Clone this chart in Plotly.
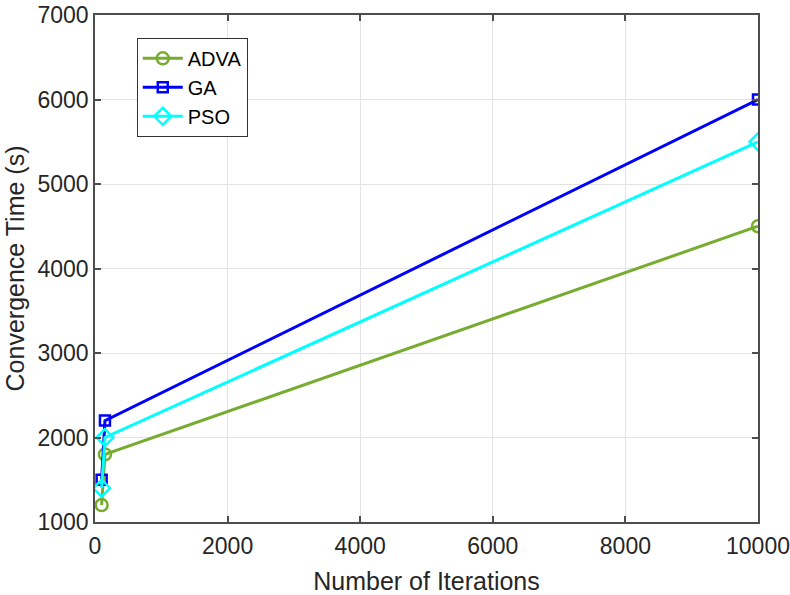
import plotly.graph_objects as go

iterations = [100, 150, 10000]
adva = [1200, 1800, 4500]
ga = [1500, 2200, 6000]
pso = [1400, 2000, 5500]

x_ticks = [0, 2000, 4000, 6000, 8000, 10000]
x_tick_labels = ["0", "2000", "4000", "6000", "8000", "10000"]
y_ticks = [1000, 2000, 3000, 4000, 5000, 6000, 7000]
y_tick_labels = ["1000", "2000", "3000", "4000", "5000", "6000", "7000"]

font_family = "Liberation Sans, Arial, sans-serif"
text_color = "#262626"

fig = go.Figure()
series = [
    ("ADVA", adva, "#77AC30", "circle-open", 12),
    ("GA", ga, "#0000FF", "square-open", 10),
    ("PSO", pso, "#00FFFF", "diamond-open", 13),
]
for name, vals, color, sym, size in series:
    fig.add_trace(go.Scatter(
        x=iterations, y=vals, name=name, mode="lines+markers",
        line=dict(color=color, width=3),
        marker=dict(symbol=sym, size=size, color=color, line=dict(color=color, width=2.5)),
    ))

axis_common = dict(
    showgrid=True, gridcolor="#e3e3e3", gridwidth=1,
    showline=True, linecolor="#4d4d4d", linewidth=1.5, mirror="ticks",
    ticks="inside", ticklen=6, tickcolor="#4d4d4d", tickwidth=1.5,
    zeroline=False, ticklabeloverflow="allow", automargin=False,
    tickfont=dict(family=font_family, size=23, color=text_color),
    title_font=dict(family=font_family, size=25, color=text_color),
)

fig.update_layout(
    width=790, height=595,
    margin=dict(l=95, r=32, t=15, b=73),
    paper_bgcolor="white", plot_bgcolor="white",
    font=dict(family=font_family, color=text_color),
    xaxis=dict(range=[0, 10000], tickvals=x_ticks, ticktext=x_tick_labels,
               ticklabelstandoff=3,
               title=dict(text="Number of Iterations", standoff=14), **axis_common),
    yaxis=dict(range=[1000, 7000], tickvals=y_ticks, ticktext=y_tick_labels,
               title=dict(text="Convergence Time (s)", standoff=6), **axis_common),
    legend=dict(
        x=0.063, y=0.955, xanchor="left", yanchor="top",
        bgcolor="white", bordercolor="#333333", borderwidth=1,
        font=dict(family=font_family, size=20, color="#000000"),
        itemwidth=40, tracegroupgap=0,
    ),
    showlegend=True,
)

fig.write_html("out.html")
